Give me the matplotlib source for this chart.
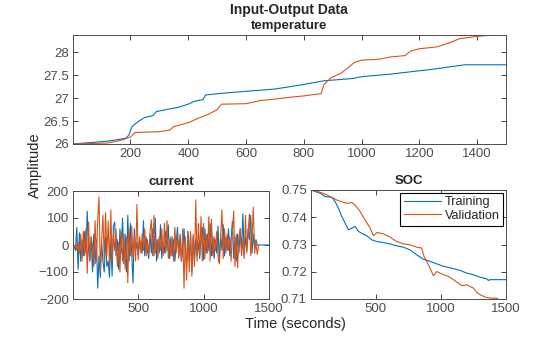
import numpy as np
import matplotlib
matplotlib.use('Agg')
import matplotlib.pyplot as plt

plt.rcParams['font.family'] = ['Liberation Sans', 'DejaVu Sans']

# temperature (time s, deg C)
temp_train_t = [0, 60, 117, 160, 185, 195, 205, 229, 250, 278, 290, 340, 365, 400, 420,
                451, 460, 520, 600, 700, 800, 870, 970, 1000, 1107, 1200, 1231, 1300, 1358, 1500]
temp_train = [26.0, 26.03, 26.06, 26.1, 26.13, 26.2, 26.38, 26.5, 26.58, 26.62, 26.71, 26.77,
              26.8, 26.87, 26.93, 26.97, 27.07, 27.11, 27.15, 27.2, 27.3, 27.38, 27.43, 27.47,
              27.53, 27.6, 27.62, 27.68, 27.73, 27.73]
temp_val_t = [0, 117, 167, 200, 215, 300, 335, 350, 402, 430, 470, 500, 515, 600, 650, 700,
              750, 800, 860, 870, 895, 930, 960, 975, 1000, 1060, 1100, 1150, 1170, 1200, 1260,
              1300, 1340, 1400, 1437]
temp_val = [26.0, 26.02, 26.08, 26.15, 26.25, 26.27, 26.3, 26.38, 26.47, 26.55, 26.65, 26.75,
            26.87, 26.88, 26.95, 26.98, 27.02, 27.05, 27.1, 27.3, 27.45, 27.55, 27.7, 27.78,
            27.83, 27.85, 27.9, 27.93, 28.03, 28.08, 28.12, 28.2, 28.3, 28.35, 28.37]

# current, sampled every 10 s
cur_train = [0, -5, -20, 65, -90, 45, -60, 20, -40, 50,
             -30, 125, -20, -60, 30, -100, 40, -70, 20, -160,
             -40, -120, 10, -60, -100, 30, -80, -60, -120, 20,
             -115, 70, 85, -40, 20, -90, 60, -30, 100, -70,
             40, -100, 110, -60, 80, -30, -140, 60, -20, 10,
             -40, 20, 0, -30, 90, -40, 30, -20, -50, 40,
             -30, 60, -40, 100, -60, 20, -30, 75, -50, 10,
             -30, 50, -20, 75, -50, 30, -40, 20, -60, 10,
             65, -40, 40, -60, -20, 60, -30, -70, 50, -60,
             40, -100, 30, -60, 20, -40, 10, -50, 30, 65,
             -55, 60, -30, 40, -20, 80, -40, 30, -50, 20,
             -30, 70, -65, 40, -20, 75, -40, 30, -20, 60,
             -40, 20, 88, -50, 30, -60, 40, -30, 60, -20,
             115, -40, 30, -20, 60, 20, 110, -30, 40, -10,
             20, 0, 0, 0, 0, 0, 0, 0, 0, 0, 0]
cur_val = [0, -5, 0, -20, 10, -30, 40, -60, 50, -40,
           60, -105, 85, -50, 30, 0, -80, 90, -60, 95,
           178, -100, 20, 110, -60, 120, -40, 90, -80, 130,
           -60, 40, -20, 60, -80, 10, -100, 50, -60, 40,
           -90, 30, -140, 60, -40, 70, -50, 40, -60, 150,
           -55, 30, -30, 40, -20, 60, -40, 20, -40, 50,
           93, -40, 110, -30, 20, -50, 30, -20, 60, -40,
           80, -30, 90, -50, 20, -40, 30, -60, 65, -30,
           40, -50, 20, -60, 60, -160, 30, -130, 50, -100,
           50, -115, 40, -80, 167, -60, 80, -40, 105, -60,
           80, -50, 40, -30, 105, -60, 95, -40, 30, -20,
           50, -40, -70, 30, 130, -50, 60, -30, 40, -20,
           30, -60, 50, 125, -80, 40, -85, 30, 60, -40,
           20, -50, 110, -30, 40, 115, -40, 20, 140, -30,
           10, -35, 0]
cur_train_t = np.arange(len(cur_train)) * 10
cur_val_t = np.arange(len(cur_val)) * 10

# state of charge
soc_train_t = [0, 72, 110, 161, 187, 212, 238, 264, 289, 315, 340, 366, 392, 430, 468, 507,
               558, 609, 660, 712, 763, 814, 865, 916, 968, 1019, 1083, 1147, 1198, 1249, 1300,
               1352, 1364, 1377, 1500]
soc_train = [0.75, 0.7488, 0.7476, 0.7473, 0.7457, 0.7433, 0.7402, 0.7378, 0.7354, 0.736,
             0.7366, 0.7348, 0.7341, 0.7332, 0.7317, 0.7311, 0.7307, 0.7302, 0.7295, 0.729,
             0.728, 0.7262, 0.7246, 0.7238, 0.7229, 0.722, 0.7213, 0.7205, 0.7195, 0.7189,
             0.718, 0.7174, 0.7168, 0.7171, 0.7171]
soc_val_t = [0, 59, 123, 174, 200, 238, 276, 315, 340, 379, 417, 456, 481, 507, 558, 609, 660,
             712, 763, 814, 852, 870, 891, 916, 942, 968, 993, 1019, 1057, 1096, 1134, 1160,
             1198, 1224, 1249, 1275, 1300, 1339, 1390, 1437]
soc_val = [0.75, 0.7494, 0.7482, 0.747, 0.7463, 0.7457, 0.7451, 0.7454, 0.7445, 0.7421, 0.739,
           0.736, 0.7332, 0.7344, 0.7339, 0.7327, 0.7311, 0.7302, 0.7299, 0.729, 0.7287,
           0.7256, 0.7238, 0.7213, 0.7185, 0.7201, 0.7195, 0.7189, 0.7183, 0.7171, 0.7158,
           0.7149, 0.7152, 0.7146, 0.714, 0.7124, 0.7116, 0.7107, 0.7103, 0.7103]

blue = '#0072BD'
orange = '#D95319'
axcol = '#262626'
lw = 0.8


def style(ax):
    ax.tick_params(direction='in', top=True, right=True, length=3.5, width=0.6,
                   colors=axcol, labelcolor='#4d4d4d', labelsize=9.5, pad=3)
    for s in ax.spines.values():
        s.set_color('#4d4d4d')
        s.set_linewidth(0.7)


fig = plt.figure(figsize=(5.6, 3.37), dpi=100)
ax1 = fig.add_axes([73/560, 1-144/337, 433/560, 109/337])
ax2 = fig.add_axes([73/560, 1-299/337, 196/560, 108/337])
ax3 = fig.add_axes([311/560, 1-299/337, 195/560, 109/337])

ax1.plot(temp_train_t, temp_train, color=blue, lw=lw)
ax1.plot(temp_val_t, temp_val, color=orange, lw=lw)
ax1.set_xlim(1, 1500)
ax1.set_ylim(26, 28.38)
ax1.set_xticks([200, 400, 600, 800, 1000, 1200, 1400])
ax1.set_yticks([26, 26.5, 27, 27.5, 28])
ax1.set_yticklabels(['26', '26.5', '27', '27.5', '28'])
ax1.set_title('temperature', fontsize=9.5, fontweight='bold', color='#262626', pad=4)
style(ax1)

ax2.plot(cur_train_t, cur_train, color=blue, lw=lw)
ax2.plot(cur_val_t, cur_val, color=orange, lw=lw)
ax2.set_xlim(1, 1500)
ax2.set_ylim(-200, 200)
ax2.set_xticks([500, 1000, 1500])
ax2.set_yticks([-200, -100, 0, 100, 200])
ax2.set_title('current', fontsize=9.5, fontweight='bold', color='#262626', pad=4)
style(ax2)

ax3.plot(soc_train_t, soc_train, color=blue, lw=lw, label='Training')
ax3.plot(soc_val_t, soc_val, color=orange, lw=lw, label='Validation')
ax3.set_xlim(1, 1500)
ax3.set_ylim(0.71, 0.75)
ax3.set_xticks([500, 1000, 1500])
ax3.set_yticks([0.71, 0.72, 0.73, 0.74, 0.75])
ax3.set_title('SOC', fontsize=9.5, fontweight='bold', color='#262626', pad=4)
style(ax3)
leg = ax3.legend(loc='upper right', fontsize=9.2, fancybox=False, framealpha=1,
                 borderpad=0.3, labelspacing=0.1, handlelength=2.9, handletextpad=0.3,
                 borderaxespad=0.2)
leg.get_frame().set_edgecolor('black')
leg.get_frame().set_linewidth(0.8)
for t in leg.get_texts():
    t.set_color('#262626')

fig.text(0.515, 0.97, 'Input-Output Data', ha='center', va='center',
         fontsize=10, fontweight='bold', color='#262626')
fig.text(35/560, 1-165/337, 'Amplitude', ha='center', va='center', rotation=90,
         fontsize=10.5, color='#262626')
fig.text(295/560, 1-324/337, 'Time (seconds)', ha='center', va='center',
         fontsize=10.5, color='#262626')

fig.savefig('out.png', dpi=100)
